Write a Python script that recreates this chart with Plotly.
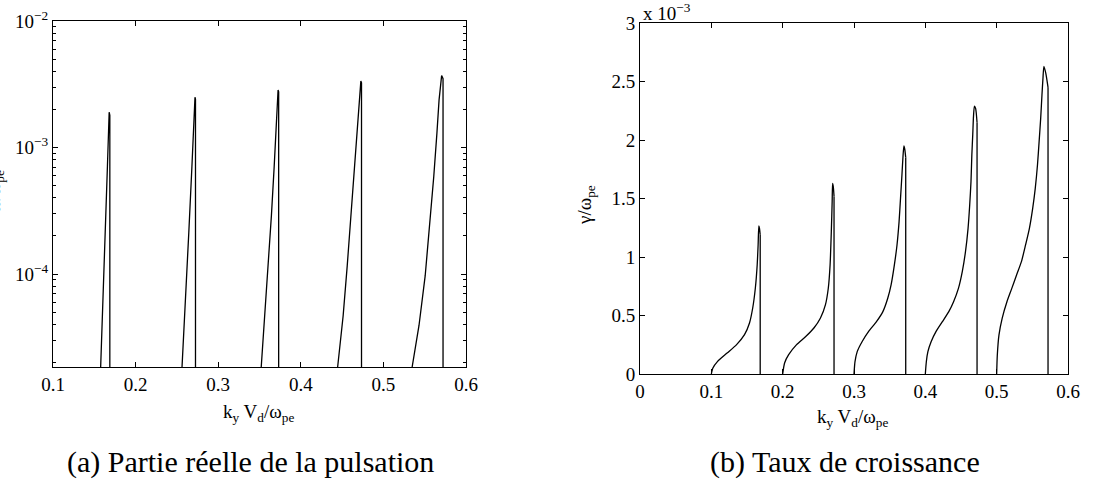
import plotly.graph_objects as go

W, H = 1101, 489

# ---------------- data: left panel (real part, log scale) ----------------
re1_x = [0.1577, 0.1607, 0.1633, 0.1659, 0.1680, 0.1688, 0.1688]
re1_y = [1.84e-5, 6.35e-5, 2.12e-4, 7.11e-4, 1.90e-3, 1.80e-3, 1e-6]
re2_x = [0.2562, 0.2607, 0.2644, 0.2682, 0.2708, 0.2719, 0.2725, 0.2725]
re2_y = [1.84e-5, 6.35e-5, 2.12e-4, 7.11e-4, 1.76e-3, 2.50e-3, 2.40e-3, 1e-6]
re3_x = [0.3521, 0.3566, 0.3607, 0.3644, 0.3678, 0.3708, 0.3725, 0.3732, 0.3732]
re3_y = [1.84e-5, 4.70e-5, 1.16e-4, 2.88e-4, 7.11e-4, 1.76e-3, 2.85e-3, 2.75e-3, 1e-6]
re4_x = [0.4446, 0.4513, 0.4562, 0.4607, 0.4644, 0.4689, 0.4727, 0.4735, 0.4735]
re4_y = [1.84e-5, 4.70e-5, 1.16e-4, 2.88e-4, 7.11e-4, 1.76e-3, 3.35e-3, 3.25e-3, 1e-6]
re5_x = [0.5348, 0.5431, 0.5506, 0.5562, 0.5610, 0.5648, 0.5674, 0.5705, 0.5722, 0.5722]
re5_y = [1.84e-5, 3.92e-5, 9.70e-5, 2.40e-4, 5.93e-4, 1.30e-3, 2.38e-3, 3.70e-3, 3.50e-3, 1e-6]

# ---------------- data: right panel (growth rate, x 1e-3) ----------------
g1_x = [0.100, 0.1022, 0.1088, 0.1221, 0.1354, 0.1465, 0.1535, 0.1580, 0.1617, 0.1643, 0.1656, 0.1666, 0.1675, 0.1685, 0.1685]
g1_y = [0.0, 0.051, 0.108, 0.179, 0.251, 0.336, 0.436, 0.564, 0.735, 0.934, 1.105, 1.265, 1.245, 1.19, 0.0]
g2_x = [0.200, 0.2027, 0.2084, 0.2195, 0.2327, 0.2438, 0.2530, 0.2600, 0.2640, 0.2665, 0.2682, 0.2694, 0.2700, 0.2710, 0.2720, 0.2720]
g2_y = [0.0, 0.094, 0.165, 0.251, 0.322, 0.393, 0.479, 0.593, 0.735, 0.934, 1.219, 1.476, 1.630, 1.60, 1.52, 0.0]
g3_x = [0.300, 0.3014, 0.3045, 0.3113, 0.3203, 0.3315, 0.3405, 0.3473, 0.3520, 0.3566, 0.3603, 0.3632, 0.3652, 0.3672, 0.3688, 0.3700, 0.3712, 0.3725, 0.3725]
g3_y = [0.0, 0.105, 0.191, 0.276, 0.362, 0.447, 0.533, 0.647, 0.761, 0.932, 1.103, 1.302, 1.501, 1.701, 1.872, 1.950, 1.92, 1.85, 0.0]
g4_x = [0.400, 0.4014, 0.4036, 0.4081, 0.4149, 0.4239, 0.4329, 0.4396, 0.4464, 0.4518, 0.4563, 0.4599, 0.4622, 0.4640, 0.4652, 0.4665, 0.4675, 0.4688, 0.4705, 0.4725, 0.4725]
g4_y = [0.0, 0.105, 0.191, 0.276, 0.362, 0.447, 0.533, 0.618, 0.732, 0.875, 1.046, 1.245, 1.444, 1.644, 1.872, 2.050, 2.200, 2.290, 2.27, 2.15, 0.0]
g5_x = [0.500, 0.5009, 0.5032, 0.5077, 0.5144, 0.5212, 0.5279, 0.5347, 0.5405, 0.5459, 0.5505, 0.5541, 0.5572, 0.5595, 0.5617, 0.5635, 0.5649, 0.5662, 0.5689, 0.5720, 0.5720]
g5_y = [0.0, 0.162, 0.333, 0.476, 0.618, 0.732, 0.846, 0.960, 1.103, 1.245, 1.416, 1.587, 1.786, 1.986, 2.185, 2.385, 2.527, 2.630, 2.57, 2.45, 0.0]

# ---------------- tick labels ----------------
left_xticks = [0.1, 0.2, 0.3, 0.4, 0.5, 0.6]
left_xtext = ["0.1", "0.2", "0.3", "0.4", "0.5", "0.6"]
left_yticks = [1e-4, 1e-3, 1e-2]
left_ytext = ["10<sup>−4</sup>", "10<sup>−3</sup>", "10<sup>−2</sup>"]
right_xticks = [0, 0.1, 0.2, 0.3, 0.4, 0.5, 0.6]
right_xtext = ["0", "0.1", "0.2", "0.3", "0.4", "0.5", "0.6"]
right_yticks = [0, 0.5, 1, 1.5, 2, 2.5, 3]
right_ytext = ["0", "0.5", "1", "1.5", "2", "2.5", "3"]

FONT = "Liberation Serif, Times New Roman, serif"
LINE = dict(color="black", width=1.3)

fig = go.Figure()
for xs, ys in [(re1_x, re1_y), (re2_x, re2_y), (re3_x, re3_y), (re4_x, re4_y), (re5_x, re5_y)]:
    fig.add_trace(go.Scatter(x=xs, y=ys, mode="lines", line=LINE, xaxis="x", yaxis="y",
                             showlegend=False, hoverinfo="skip"))
for xs, ys in [(g1_x, g1_y), (g2_x, g2_y), (g3_x, g3_y), (g4_x, g4_y), (g5_x, g5_y)]:
    # smooth rising branch, straight vertical drop at the end
    fig.add_trace(go.Scatter(x=xs[:-1], y=ys[:-1], mode="lines",
                             line=dict(color="black", width=1.3, shape="spline", smoothing=0.6),
                             xaxis="x2", yaxis="y2", showlegend=False, hoverinfo="skip"))
    fig.add_trace(go.Scatter(x=xs[-2:], y=ys[-2:], mode="lines", line=LINE,
                             xaxis="x2", yaxis="y2", showlegend=False, hoverinfo="skip"))


def px(x):
    return x / W


def py(y):
    return 1 - y / H


tickfont = dict(family=FONT, size=19, color="black")
common = dict(showgrid=False, zeroline=False, showline=True, linecolor="black", linewidth=1,
              mirror="ticks", ticks="inside", ticklen=5, tickcolor="black", tickwidth=1,
              tickfont=tickfont, automargin=False)

minor_vals = []
for d in [1e-5, 1e-4, 1e-3]:
    for m in range(2, 10):
        minor_vals.append(m * d)

fig.update_layout(
    width=W, height=H,
    margin=dict(l=0, r=0, t=0, b=0),
    paper_bgcolor="white", plot_bgcolor="white",
    font=dict(family=FONT, color="black"),
    xaxis=dict(domain=[px(53), px(466)], range=[0.1, 0.6], tickvals=left_xticks, ticktext=left_xtext,
               anchor="y", **common),
    yaxis=dict(domain=[py(367), py(21)], type="log", range=[-4.735, -2], tickvals=left_yticks,
               ticktext=left_ytext, anchor="x",
               minor=dict(tickvals=minor_vals, ticks="inside", ticklen=3, tickcolor="black"),
               **common),
    xaxis2=dict(domain=[px(640), px(1068)], range=[0, 0.6], tickvals=right_xticks, ticktext=right_xtext,
                anchor="y2", **common),
    yaxis2=dict(domain=[py(374), py(23)], range=[0, 3], tickvals=right_yticks, ticktext=right_ytext,
                anchor="x2", **common),
)

ann_font = dict(family=FONT, size=19, color="black")
cap_font = dict(family=FONT, size=30, color="black")
annotations = [
    dict(text="k<sub>y</sub> V<sub>d</sub>/ω<sub>pe</sub>", x=px(258), y=py(413), font=ann_font),
    dict(text="k<sub>y</sub> V<sub>d</sub>/ω<sub>pe</sub>", x=px(852), y=py(418), font=ann_font),
    dict(text="γ/ω<sub>pe</sub>", x=px(586), y=py(205), font=ann_font, textangle=-90),
    dict(text="ω/ω<sub>pe</sub>", x=px(-5), y=py(192), font=ann_font, textangle=-90),
    dict(text="x 10<sup>−3</sup>", x=px(641), y=py(26), xanchor="left", yanchor="bottom", font=ann_font),
    dict(text="(a) Partie réelle de la pulsation", x=px(250), y=py(462), font=cap_font),
    dict(text="(b) Taux de croissance", x=px(845), y=py(462), font=cap_font),
]
for a in annotations:
    a.setdefault("xanchor", "center")
    a.setdefault("yanchor", "middle")
    fig.add_annotation(xref="paper", yref="paper", showarrow=False, **a)

fig.write_html("out.html")
